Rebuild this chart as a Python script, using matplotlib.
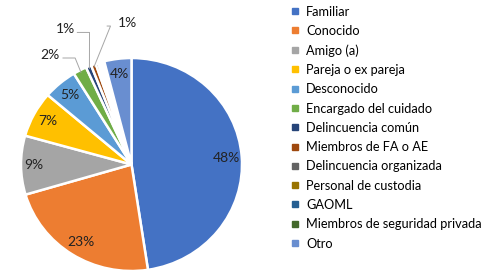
import matplotlib
matplotlib.use("Agg")
import matplotlib.pyplot as plt
from matplotlib.lines import Line2D
import numpy as np

categories = ["Familiar", "Conocido", "Amigo (a)", "Pareja o ex pareja", "Desconocido",
              "Encargado del cuidado", "Delincuencia común", "Miembros de FA o AE",
              "Delincuencia organizada", "Personal de custodia", "GAOML",
              "Miembros de seguridad privada", "Otro"]
values = [48, 23, 9, 7, 5, 2, 0.8, 0.7, 0.4, 0.3, 0.3, 0.3, 4]
pct_labels = ["48%", "23%", "9%", "7%", "5%", "2%", "1%", "1%", "", "", "", "", "4%"]
colors = ["#4472C4", "#ED7D31", "#A5A5A5", "#FFC000", "#5B9BD5", "#70AD47",
          "#264478", "#9E480E", "#636363", "#997300", "#255E91", "#43682B", "#698ED0"]

plt.rcParams['font.family'] = ['Lato', 'DejaVu Sans']
fig = plt.figure(figsize=(4.87, 2.75), dpi=100)
ax = fig.add_axes([21/487, 4/275, 221/487, 213/275])

wedges, _ = ax.pie(values, colors=colors, startangle=90, counterclock=False,
                   wedgeprops=dict(edgecolor='white', linewidth=1.8))
ax.set_xlim(-1, 1)
ax.set_ylim(-1, 1)
ax.set_aspect('auto')

inside = {0, 1, 2, 3, 4, 12}
for i, w in enumerate(wedges):
    mid = np.deg2rad((w.theta1 + w.theta2) / 2)
    if i in inside:
        r = 0.86 if i != 2 else 0.88
        ax.text(r * np.cos(mid), r * np.sin(mid), pct_labels[i], ha='center', va='center',
                fontsize=10, color='#222222')

# outside labels with leader lines
outside = {5: ((-0.74, 1.03), (-0.59, 1.0)),
           6: ((-0.60, 1.27), (-0.46, 1.24)),
           7: ((-0.04, 1.33), (-0.19, 1.30))}
for i, ((tx, ty), (ex, ey)) in outside.items():
    w = wedges[i]
    mid = np.deg2rad((w.theta1 + w.theta2) / 2)
    px, py = 0.98 * np.cos(mid), 0.98 * np.sin(mid)
    ax.text(tx, ty, pct_labels[i], ha='center', va='center', fontsize=10, color='#222222',
            clip_on=False)
    ax.plot([ex - 0.03, ex + (0.08 if i != 7 else 0), px], [ey, ey, py], color='#A6A6A6',
            lw=0.7, clip_on=False)

handles = [Line2D([0], [0], marker='s', linestyle='', markersize=4.5,
                  markerfacecolor=c, markeredgecolor=c) for c in colors]
fig.legend(handles, categories, loc='upper left', bbox_to_anchor=(288/487, 1 - 3/275),
           frameon=False, fontsize=9.2, labelspacing=0.57, handlelength=0.7,
           handletextpad=0.5, borderaxespad=0, borderpad=0.2)

fig.savefig("out.png", dpi=100)
